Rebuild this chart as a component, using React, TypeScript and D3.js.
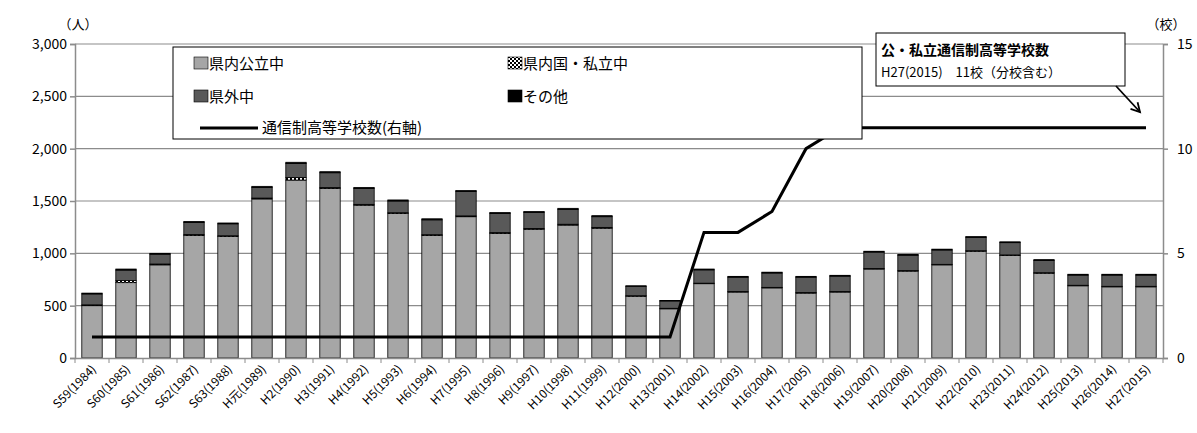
import { useEffect, useRef } from "react";
import * as d3 from "d3";

const categories = ["S59(1984)","S60(1985)","S61(1986)","S62(1987)","S63(1988)","H元(1989)","H2(1990)","H3(1991)","H4(1992)","H5(1993)","H6(1994)","H7(1995)","H8(1996)","H9(1997)","H10(1998)","H11(1999)","H12(2000)","H13(2001)","H14(2002)","H15(2003)","H16(2004)","H17(2005)","H18(2006)","H19(2007)","H20(2008)","H21(2009)","H22(2010)","H23(2011)","H24(2012)","H25(2013)","H26(2014)","H27(2015)"];
const totals = [620,850,1000,1305,1290,1640,1870,1780,1630,1510,1330,1600,1390,1400,1430,1360,690,550,850,780,820,780,790,1020,990,1040,1160,1110,940,800,800,800];
const publicJh = [500,720,890,1170,1160,1520,1700,1620,1460,1380,1170,1350,1190,1230,1270,1240,590,470,710,630,670,620,630,850,830,890,1020,980,810,690,680,680];
const privateJh = [8,20,8,10,8,8,25,8,8,8,8,8,8,8,8,8,5,5,5,5,5,5,5,5,5,5,5,5,5,5,5,5];
const otherJh = [8,10,8,10,8,10,12,10,10,10,10,10,10,10,10,10,5,5,8,8,8,8,8,8,8,8,8,8,8,8,8,8];
const schools = [1,1,1,1,1,1,1,1,1,1,1,1,1,1,1,1,1,1,6,6,7,10,11,11,11,11,11,11,11,11,11,11];
const leftTicks = [0,500,1000,1500,2000,2500,3000];
const rightTicks = [0,5,10,15];

const FONT = "'Noto Sans CJK JP', sans-serif";

export default function App() {
  const ref = useRef<SVGSVGElement | null>(null);

  useEffect(() => {
    if (!ref.current) return;
    const svg = d3.select(ref.current);
    svg.selectAll("*").remove();

    const left = 75, right = 1163, top = 44, bottom = 358;
    const x = d3.scaleBand<string>().domain(categories).range([left, right]).paddingInner(0.4).paddingOuter(0.2);
    const y = d3.scaleLinear().domain([0, 3000]).range([bottom, top]);
    const y2 = d3.scaleLinear().domain([0, 15]).range([bottom, top]);

    const defs = svg.append("defs");
    const pat = defs.append("pattern").attr("id", "chk").attr("width", 4).attr("height", 4).attr("patternUnits", "userSpaceOnUse");
    pat.append("rect").attr("width", 4).attr("height", 4).attr("fill", "#fff");
    pat.append("rect").attr("width", 2).attr("height", 2).attr("fill", "#000");
    pat.append("rect").attr("x", 2).attr("y", 2).attr("width", 2).attr("height", 2).attr("fill", "#000");

    // gridlines
    svg.append("g").selectAll("line").data(leftTicks.slice(1)).join("line")
      .attr("x1", left).attr("x2", right).attr("y1", (d) => y(d)).attr("y2", (d) => y(d))
      .attr("stroke", "#8c8c8c").attr("stroke-width", 1.2);

    const outside = totals.map((t, i) => t - publicJh[i] - privateJh[i] - otherJh[i]);
    const series = [
      { vals: publicJh, fill: "#a6a6a6" },
      { vals: privateJh, fill: "url(#chk)" },
      { vals: outside, fill: "#595959" },
      { vals: otherJh, fill: "#000" },
    ];
    const g = svg.append("g");
    categories.forEach((c, i) => {
      let acc = 0;
      series.forEach((s) => {
        const v = s.vals[i];
        g.append("rect").attr("x", x(c)!).attr("width", x.bandwidth())
          .attr("y", y(acc + v)).attr("height", y(acc) - y(acc + v))
          .attr("fill", s.fill).attr("stroke", "#000").attr("stroke-width", 0.8);
        acc += v;
      });
    });

    // axes
    const ax = svg.append("g").attr("transform", `translate(0,${bottom})`)
      .call(d3.axisBottom(x).tickSize(0).tickFormat(() => ""));
    ax.select(".domain").attr("stroke", "#8c8c8c").attr("stroke-width", 1.5);
    svg.append("g").selectAll("line").data([...categories.map((c) => x(c)! - x.step() * x.paddingInner() / 2), right]).join("line")
      .attr("x1", (d) => d).attr("x2", (d) => d).attr("y1", bottom).attr("y2", bottom + 5).attr("stroke", "#8c8c8c");
    svg.append("g").selectAll("text").data(categories).join("text")
      .attr("transform", (d) => `translate(${x(d)! + x.bandwidth() / 2 + 5},${bottom + 12}) rotate(-45)`)
      .attr("text-anchor", "end").attr("font-size", 12).attr("font-family", FONT).attr("fill", "#000").text((d) => d);

    const la = svg.append("g").attr("transform", `translate(${left},0)`)
      .call(d3.axisLeft(y).tickValues(leftTicks).tickSize(5).tickFormat(d3.format(",")));
    la.selectAll("path,line").attr("stroke", "#8c8c8c").attr("stroke-width", 1.5);
    la.selectAll("text").attr("font-size", 14).attr("font-family", FONT).attr("fill", "#000");
    const ra = svg.append("g").attr("transform", `translate(${right},0)`)
      .call(d3.axisRight(y2).tickValues(rightTicks).tickSize(5));
    ra.selectAll("path,line").attr("stroke", "#8c8c8c").attr("stroke-width", 1.5);
    ra.selectAll("text").attr("font-size", 14).attr("font-family", FONT).attr("fill", "#000").attr("dx", 6);

    svg.append("path").datum(schools)
      .attr("d", d3.line<number>().x((_, i) => x(categories[i])! + x.bandwidth() / 2).y((d) => y2(d)))
      .attr("fill", "none").attr("stroke", "#000").attr("stroke-width", 3);

    const txt = (t: string, px: number, py: number, size = 13, anchor = "start") =>
      svg.append("text").attr("x", px).attr("y", py).attr("font-size", size).attr("font-family", FONT)
        .attr("text-anchor", anchor).attr("fill", "#000").text(t);
    txt("（人）", 78, 29, 13, "middle");
    txt("（校）", 1166, 29, 13, "middle");

    // legend
    svg.append("rect").attr("x", 173).attr("y", 47).attr("width", 689).attr("height", 92)
      .attr("fill", "#fff").attr("stroke", "#000");
    const legend = [
      { label: "県内公立中", fill: "#a6a6a6", lx: 194, ly: 64 },
      { label: "県内国・私立中", fill: "url(#chk)", lx: 508, ly: 64 },
      { label: "県外中", fill: "#595959", lx: 194, ly: 97 },
      { label: "その他", fill: "#000", lx: 508, ly: 97 },
    ];
    legend.forEach((l) => {
      svg.append("rect").attr("x", l.lx).attr("y", l.ly - 7).attr("width", 14).attr("height", 12)
        .attr("fill", l.fill).attr("stroke", "#000").attr("stroke-width", 0.6);
      txt(l.label, l.lx + 15, l.ly + 5, 15);
    });
    svg.append("line").attr("x1", 200).attr("x2", 258).attr("y1", 128).attr("y2", 128).attr("stroke", "#000").attr("stroke-width", 3);
    txt("通信制高等学校数(右軸)", 262, 133, 15);

    // annotation
    svg.append("rect").attr("x", 876).attr("y", 33).attr("width", 249).attr("height", 53)
      .attr("fill", "#fff").attr("stroke", "#000");
    svg.append("text").attr("x", 881).attr("y", 55).attr("font-size", 14).attr("font-weight", "bold")
      .attr("font-family", FONT).text("公・私立通信制高等学校数");
    txt("H27(2015)　11校（分校含む）", 881, 77, 13);
    const ex = 1140, ey = 112;
    svg.append("line").attr("x1", 1116).attr("y1", 86).attr("x2", ex).attr("y2", ey).attr("stroke", "#000").attr("stroke-width", 1.8);
    const ang = Math.atan2(ey - 86, ex - 1116);
    const p = (a: number) => `${ex - 10 * Math.cos(ang + a)},${ey - 10 * Math.sin(ang + a)}`;
    svg.append("polyline").attr("points", `${p(0.5)} ${ex},${ey} ${p(-0.5)}`).attr("fill", "none")
      .attr("stroke", "#000").attr("stroke-width", 1.8);
  }, []);

  return <svg ref={ref} width={1197} height={433} style={{ position: "absolute", left: 0, top: 0, background: "#fff" }} />;
}
